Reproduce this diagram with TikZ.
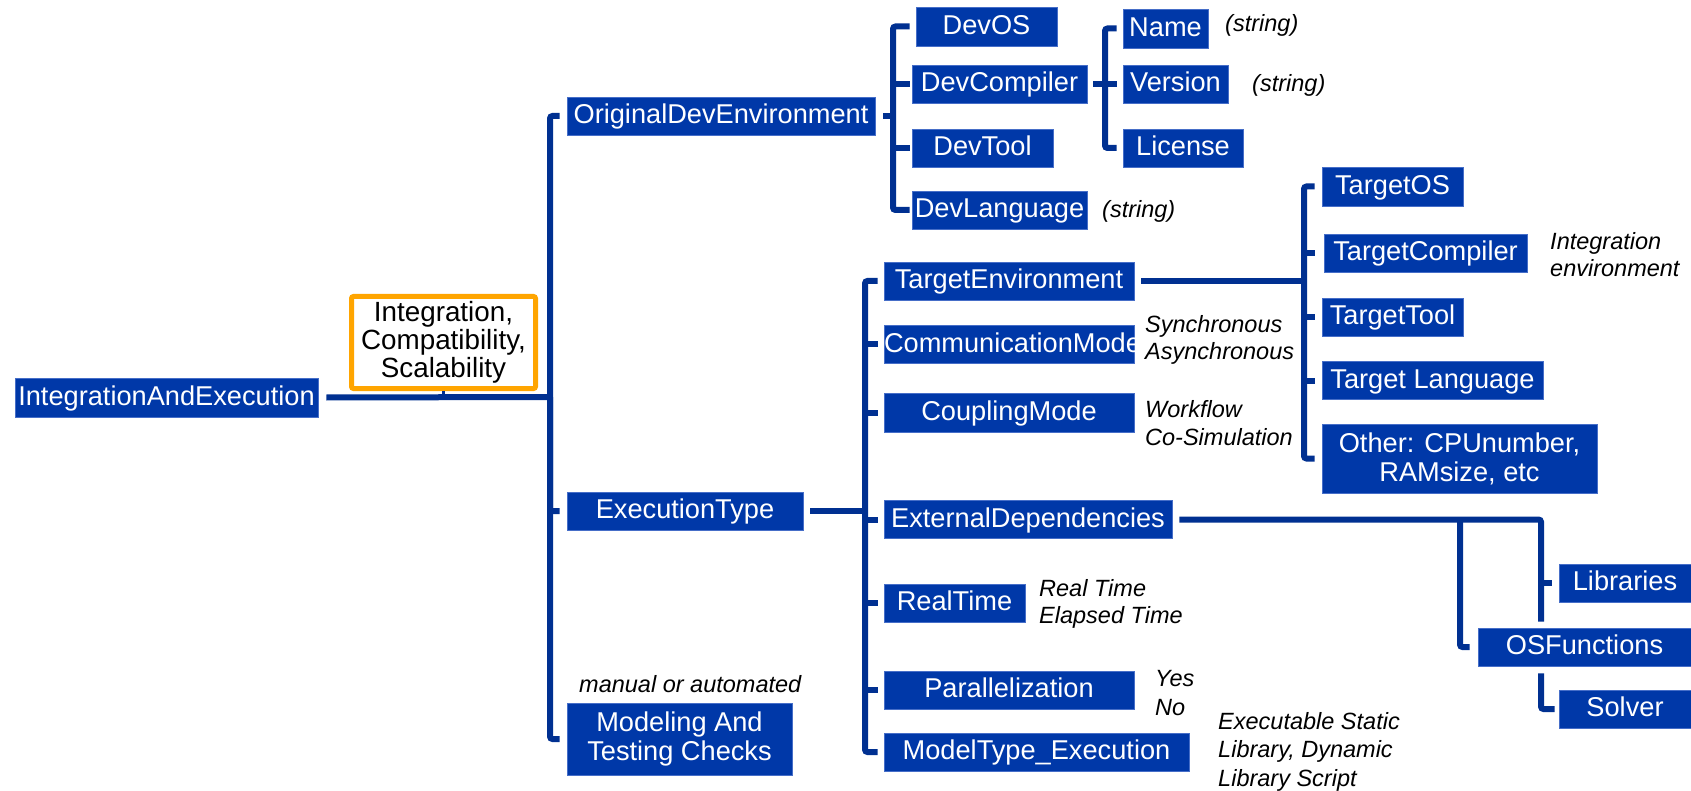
\documentclass[tikz,border=0pt]{standalone}
\usepackage{fontspec}
\setmainfont{Liberation Sans}
\definecolor{boxblue}{RGB}{0,56,168}
\definecolor{boxedge}{RGB}{70,110,200}
\definecolor{linkblue}{RGB}{0,48,145}
\definecolor{accent}{RGB}{255,165,0}
\begin{document}
\begin{tikzpicture}[x=1pt,y=-1pt,
  box/.style={fill=boxblue, draw=boxedge, line width=0.8pt, text=white,
    inner sep=0pt, align=center, font=\fontsize{27.2}{29}\selectfont},
  onebox/.style={box, text height=21.5pt, text depth=6pt},
  conn/.style={draw=linkblue, line width=6pt, rounded corners=2.5pt},
  lbl/.style={font=\itshape\fontsize{23.5}{28}\selectfont, inner sep=0pt, align=left},
]
\useasboundingbox (0,0) rectangle (1691,791);

% ---- boxes ----
\node[onebox, minimum width=303pt, minimum height=39pt] (root) at (166.5,397.5) {IntegrationAndExecution};
\node[draw=accent, line width=5pt, fill=white, rounded corners=2pt, inner sep=0pt,
      minimum width=184pt, minimum height=92pt, align=center,
      font=\fontsize{27.8}{28}\selectfont] (icsc) at (443.5,342.5)
      {Integration,\\Compatibility,\\Scalability};

\node[onebox, minimum width=308pt, minimum height=38pt] (odev) at (721,116) {OriginalDevEnvironment};
\node[onebox, minimum width=236pt, minimum height=38pt] (exec) at (685,511) {ExecutionType};
\node[box, minimum width=225pt, minimum height=72pt] (mtc) at (679.5,739) {Modeling And\\Testing Checks};

\node[onebox, minimum width=141pt, minimum height=39pt] (devos) at (986.5,26.5) {DevOS};
\node[onebox, minimum width=175pt, minimum height=38pt] (devcomp) at (999.5,84) {DevCompiler};
\node[onebox, minimum width=141pt, minimum height=38pt] (devtool) at (982.5,148) {DevTool};
\node[onebox, minimum width=175pt, minimum height=38pt] (devlang) at (999.5,210) {DevLanguage};

\node[onebox, minimum width=85pt, minimum height=39pt] (name) at (1165.5,28.5) {Name};
\node[onebox, minimum width=105pt, minimum height=38pt] (version) at (1175.5,84) {Version};
\node[onebox, minimum width=120pt, minimum height=38pt] (license) at (1183,148) {License};

\node[onebox, minimum width=250pt, minimum height=38pt] (tenv) at (1009,281) {TargetEnvironment};
% the label is wider than its box: keep the box at 250pt and let the text run over
\node[onebox, minimum width=250pt, minimum height=38pt] (comm) at (1009,344.5) {\makebox[250pt][l]{CommunicationMode}};
\node[onebox, minimum width=250pt, minimum height=39pt] (coup) at (1009,412.5) {CouplingMode};
\node[onebox, minimum width=288pt, minimum height=38pt] (extdep) at (1028,519.5) {ExternalDependencies};
\node[onebox, minimum width=141pt, minimum height=38pt] (rt) at (954.5,603) {RealTime};
\node[onebox, minimum width=250pt, minimum height=38pt] (par) at (1009,690) {Parallelization};
\node[onebox, minimum width=305pt, minimum height=38pt] (mte) at (1036.5,752) {ModelType\_Execution};

\node[onebox, minimum width=141pt, minimum height=39pt] (tos) at (1392.5,186.5) {TargetOS};
\node[onebox, minimum width=203pt, minimum height=38pt] (tcomp) at (1425.5,253) {TargetCompiler};
\node[onebox, minimum width=141pt, minimum height=38pt] (ttool) at (1392.5,317) {TargetTool};
\node[onebox, minimum width=221pt, minimum height=38pt] (tlang) at (1432.5,380.5) {Target Language};
\node[box, minimum width=275pt, minimum height=69pt] (other) at (1459.5,458.5) {Other: CPUnumber,\\RAMsize, etc};

\node[onebox, minimum width=132pt, minimum height=38pt] (lib) at (1625,583) {Libraries};
\node[onebox, minimum width=213pt, minimum height=38pt] (osf) at (1584.5,647) {OSFunctions};
\node[onebox, minimum width=132pt, minimum height=38pt] (solver) at (1625,709) {Solver};

% ---- italic notes ----
\node[lbl, anchor=base west] (sname) at (1225,32) {(string)};
\node[lbl, anchor=base west] (sver) at (1252,92) {(string)};
\node[lbl, anchor=base west] (slang) at (1102,218) {(string)};
\node[lbl, anchor=base west] (mauto) at (579,692) {manual or automated};
\node[lbl, anchor=west, font=\itshape\fontsize{23.5}{27}\selectfont] (lcomm) at (1145,339.5) {Synchronous\\Asynchronous};
\node[lbl, anchor=west] (lcoup) at (1145,423.5) {Workflow\\Co-Simulation};
\node[lbl, anchor=west, font=\itshape\fontsize{23.5}{27}\selectfont] (lint) at (1550,255) {Integration\\environment};
\node[lbl, anchor=west, font=\itshape\fontsize{23.5}{27}\selectfont] (lrt) at (1039,603.5) {Real Time\\Elapsed Time};
\node[lbl, anchor=west, font=\itshape\fontsize{23.5}{29}\selectfont] (lpar) at (1155,693) {Yes\\No};
\node[lbl, anchor=west, font=\itshape\fontsize{23.5}{28.5}\selectfont] (lmte) at (1218,751.5) {Executable Static\\Library, Dynamic\\Library Script};

% ---- connectors: main trunk ----
\coordinate (trunk) at (550,397);
\draw[conn] ([xshift=8pt]root.east) -- (trunk);
\draw[conn] ([xshift=-7pt]odev.west) -| (trunk) |- ([xshift=-7pt]mtc.west);
\draw[conn] (trunk) |- ([xshift=-7pt]exec.west);
\draw[linkblue, line width=3pt] (icsc.south) -- (icsc.south |- trunk);

% development environment
\coordinate (dj) at (893,116);
\draw[conn] ([xshift=8pt]odev.east) -- (dj);
\draw[conn] ([xshift=-6pt]devos.west) -| (dj) |- ([xshift=-2pt]devlang.west);
\draw[conn] (dj |- devcomp.west) -- ([xshift=-2pt]devcomp.west);
\draw[conn] (dj |- devtool.west) -- ([xshift=-2pt]devtool.west);

% compiler attributes
\coordinate (cj) at (1105,84);
\draw[conn] ([xshift=6pt]devcomp.east) -- (cj);
\draw[conn] ([xshift=-6pt]name.west) -| (cj) |- ([xshift=-6pt]license.west);
\draw[conn] (cj) -- ([xshift=-6pt]version.west);

% execution type
\coordinate (ej) at (865,511);
\draw[conn] ([xshift=7pt]exec.east) -- (ej);
\draw[conn] ([xshift=-6pt]tenv.west) -| (ej) |- ([xshift=-6pt]mte.west);
\foreach \n in {comm,coup,extdep,rt,par}
  \draw[conn] (ej |- \n.west) -- ([xshift=-6pt]\n.west);

% target environment
\coordinate (tj) at (1304,281);
\draw[conn] ([xshift=7pt]tenv.east) -- (tj);
\draw[conn] ([xshift=-7pt]tos.west) -| (tj) |- ([xshift=-7pt]other.west);
\draw[conn] (tj |- tcomp.west) -- ([xshift=-9pt]tcomp.west);
\draw[conn] (tj |- ttool.west) -- ([xshift=-7pt]ttool.west);
\draw[conn] (tj |- tlang.west) -- ([xshift=-7pt]tlang.west);

% external dependencies
\coordinate (xr) at (1541,519.5);
\coordinate (xl) at (1460,519.5);
\draw[conn, shorten >=6pt] ([xshift=7pt]extdep.east) -| (xr |- osf.north);
\draw[conn] (xr |- lib.west) -- ([xshift=-7pt]lib.west);
\draw[conn] (xl) |- ([xshift=-8pt]osf.west);
\draw[conn, shorten <=7pt] (xr |- osf.south) |- ([xshift=-4pt]solver.west);
\end{tikzpicture}
\end{document}
